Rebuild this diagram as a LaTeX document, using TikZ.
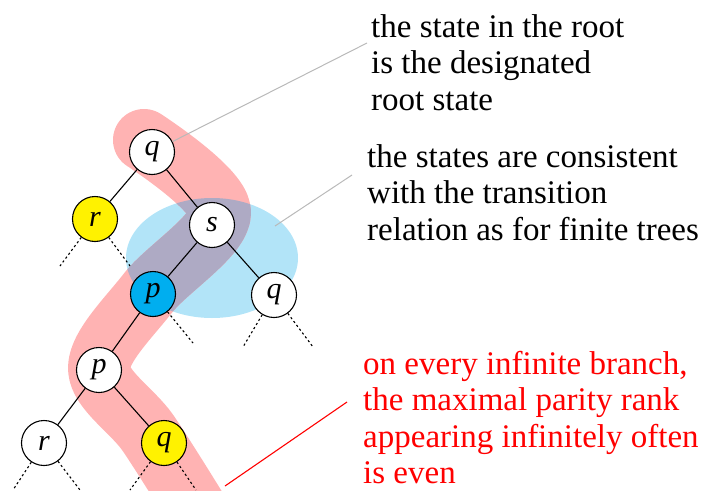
\documentclass[tikz,border=0pt]{standalone}
\usepackage{fontspec}
\setmainfont{Liberation Serif}
\usetikzlibrary{shapes.geometric}
\definecolor{bandpink}{RGB}{255,179,179}
\definecolor{ellblue}{RGB}{178,228,248}
\definecolor{overlapc}{RGB}{174,170,196}
\definecolor{nodeblue}{RGB}{0,174,239}
\definecolor{nodeyellow}{RGB}{255,242,0}
\definecolor{calloutgray}{RGB}{185,185,185}
\begin{document}
\begin{tikzpicture}[x=1pt,y=-1pt,
  st/.style={circle,draw,line width=1.1pt,fill=white,minimum size=45pt,inner sep=0pt,font=\fontsize{30}{32}\selectfont\itshape},
  edge/.style={line width=1.1pt},
  leaf/.style={line width=1.1pt,dash pattern=on 2.2pt off 2.6pt},
  band/.style={line width=62pt,line cap=round,line join=round},
  bandpath/.style={insert path={plot[smooth,tension=0.55] coordinates {(144,140) (220,212) (148,293) (99,368) (148,433) (200,515)}}},
  note/.style={anchor=north west,align=left,inner sep=0pt,font=\fontsize{33}{36.5}\selectfont},
  callout/.style={line width=1pt,draw=calloutgray}]
\useasboundingbox (0,0) rectangle (708,490);
% highlight regions
\fill[ellblue] (212,258) ellipse [x radius=86, y radius=60];
\draw[band,bandpink,bandpath];
\begin{scope}
  \clip (212,258) ellipse [x radius=86, y radius=60];
  \draw[band,overlapc,bandpath];
\end{scope}
% nodes
\node[st] (q1) at (152,152) {q};
\node[st,fill=nodeyellow] (r1) at (95,219) {r};
\node[st] (s1) at (212,225) {s};
\node[st,fill=nodeblue] (p1) at (153,294) {p};
\node[st] (q2) at (274,295) {q};
\node[st] (p2) at (99,370) {p};
\node[st] (r2) at (44,443) {r};
\node[st,fill=nodeyellow] (q3) at (164,443) {q};
% edges
\draw[edge] (q1) -- (r1);
\draw[edge] (q1) -- (s1);
\draw[edge] (s1) -- (p1);
\draw[edge] (s1) -- (q2);
\draw[edge] (p1) -- (p2);
\draw[edge] (p2) -- (r2);
\draw[edge] (p2) -- (q3);
% infinite continuations
\coordinate (r1a) at (60,266);
\coordinate (r1b) at (130,266);
\coordinate (p1b) at (193,343);
\coordinate (q2a) at (243,347);
\coordinate (q2b) at (313,347);
\coordinate (r2a) at (13,490);
\coordinate (r2b) at (80,490);
\coordinate (q3a) at (130,490);
\coordinate (q3b) at (196,490);
\draw[leaf] (r1) -- (r1a);
\draw[leaf] (r1) -- (r1b);
\draw[leaf] (p1) -- (p1b);
\draw[leaf] (q2) -- (q2a);
\draw[leaf] (q2) -- (q2b);
\draw[leaf] (r2) -- (r2a);
\draw[leaf] (r2) -- (r2b);
\draw[leaf] (q3) -- (q3a);
\draw[leaf] (q3) -- (q3b);
% notes
\node[note] (t1) at (371,14) {the state in the root\\is the designated\\root state};
\node[note] (t2) at (367,144) {the states are consistent\\with the transition\\relation as for finite trees};
\node[note,text=red] (t3) at (363,351) {on every infinite branch,\\the maximal parity rank\\appearing infinitely often\\is even};
% callouts
\coordinate (c1) at (367,43);
\coordinate (e1) at (275,226);
\coordinate (c2) at (352,175);
\coordinate (b1) at (225,486);
\coordinate (c3) at (347,402);
\draw[callout] (q1) -- (c1);
\draw[callout] (e1) -- (c2);
\draw[line width=1.1pt,red] (b1) -- (c3);
\end{tikzpicture}
\end{document}
